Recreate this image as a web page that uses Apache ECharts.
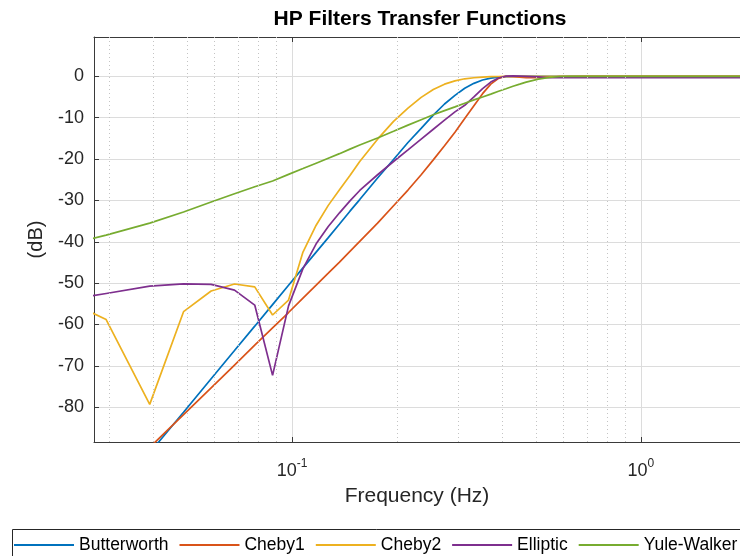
<!DOCTYPE html>
<html>
<head>
<meta charset="utf-8">
<script src="https://cdn.jsdelivr.net/npm/echarts@6/dist/echarts.min.js"></script>
<style>
html,body{margin:0;padding:0;background:#fff;}
#chart{width:740px;height:556px;}
</style>
</head>
<body>
<div id="chart"></div>
<script>
// Frequencies (Hz)
const freq = [0.01953,0.02930,0.03906,0.04883,0.05859,0.06836,0.07813,0.08789,0.09766,0.10742,
  0.11719,0.12695,0.13672,0.14648,0.15625,0.17578,0.19531,0.21484,0.23438,0.25391,
  0.27344,0.29297,0.31250,0.33203,0.35156,0.37109,0.39063,0.41016,0.42969,0.44922,
  0.46875,0.50781,0.54688,0.58594,0.62500,0.70313,0.78125,0.87891,0.97656,1.26953,
  1.56250,1.95313];
// Magnitude (dB)
const butterworth = [-121.6,-103.7,-91.0,-81.2,-73.1,-66.3,-60.4,-55.2,-50.5,-46.3,
  -42.5,-39.0,-35.7,-32.6,-29.8,-24.6,-20.1,-16.0,-12.6,-9.4,
  -6.7,-4.6,-2.9,-1.7,-0.9,-0.45,-0.2,-0.1,0,0,
  0,0,0,0,0,0,0,0,0,0,
  0,0];
const cheby1 = [-114.4,-100.0,-89.7,-81.8,-75.3,-69.8,-65.0,-60.8,-57.1,-53.6,
  -50.5,-47.6,-44.9,-42.3,-39.9,-35.5,-31.3,-27.5,-23.8,-20.2,
  -16.8,-13.5,-10.2,-7.1,-4.2,-1.9,-0.5,0,-0.1,-0.2,
  -0.3,-0.3,-0.2,-0.1,-0.05,0,0,0,0,0,
  0,0];
const cheby2 = [-51.7,-58.8,-79.3,-56.9,-51.9,-50.2,-50.9,-57.7,-54.1,-42.5,
  -36.0,-31.2,-27.4,-24.0,-20.6,-15.2,-10.9,-7.7,-5.1,-3.2,
  -1.9,-1.1,-0.6,-0.35,-0.2,-0.1,-0.05,0,0,0,
  0,0,0,0,0,0,0,0,0,0,
  0,0];
const elliptic = [-55.0,-52.5,-50.7,-50.2,-50.3,-51.7,-55.3,-72.3,-55.5,-46.5,
  -40.5,-36.3,-33.0,-30.1,-27.6,-23.8,-20.6,-17.8,-15.2,-12.8,
  -10.6,-8.6,-7.0,-5.0,-3.0,-1.4,-0.4,0.05,0.1,0.05,
  0,-0.15,-0.3,-0.35,-0.3,-0.25,-0.3,-0.35,-0.3,-0.3,
  -0.3,-0.3];
const yuleWalker = [-42.0,-38.4,-35.5,-32.8,-30.4,-28.4,-26.7,-25.3,-23.7,-22.3,
  -21.0,-19.8,-18.7,-17.6,-16.6,-14.9,-13.3,-11.8,-10.5,-9.3,
  -8.3,-7.4,-6.5,-5.7,-5.0,-4.3,-3.6,-3.0,-2.4,-1.9,
  -1.4,-0.7,-0.25,-0.05,0,0,0,0,0,0,
  0,0];
const seriesNames = ['Butterworth','Cheby1','Cheby2','Elliptic','Yule-Walker'];
const seriesValues = [butterworth, cheby1, cheby2, elliptic, yuleWalker];
const colors = ['#0072BD','#D95319','#EDB120','#7E2F8E','#77AC30'];
const yTicks = [-80,-70,-60,-50,-40,-30,-20,-10,0];
const xTicks = [0.1, 1];
const minorX = [0.03,0.04,0.05,0.06,0.07,0.08,0.09,0.2,0.3,0.4,0.5,0.6,0.7,0.8,0.9];
const xMin = 0.02704, xMax = 1.923;
const yMin = -88.4, yMax = 9.5;

const FONT = '"Liberation Sans", Arial, Helvetica, sans-serif';
const TXT = '#262626';
const AX = '#3a3a3a';

function xLabel(v){
  const e = Math.log10(v);
  const r = Math.round(e);
  if (Math.abs(e - r) > 1e-6) return '';
  return '{b|10}{s|' + r + '}';
}

const chart = echarts.init(document.getElementById('chart'), null, {renderer:'canvas'});
const series = seriesNames.map((n,i)=>({
  name:n, type:'line', symbol:'none', smooth:false, clip:true,
  data: freq.map((f,j)=>[f, seriesValues[i][j]]),
  lineStyle:{color:colors[i], width:1.7},
  itemStyle:{color:colors[i]},
  z:3, animation:false
}));
series.push({
  name:'minorGrid', type:'line', data:[], symbol:'none', z:1, silent:true, animation:false,
  markLine:{
    silent:true, symbol:['none','none'], animation:false,
    label:{show:false},
    lineStyle:{color:'#c4c4c4', width:1, type:[1,3]},
    emphasis:{disabled:true},
    data: minorX.map(v=>({xAxis:v}))
  }
});

const option = {
  backgroundColor:'#ffffff',
  animation:false,
  title:{
    text:'HP Filters Transfer Functions',
    left:420, top:9, textAlign:'center', padding:0,
    textStyle:{fontFamily:FONT, fontWeight:'bold', fontSize:21, color:'#000'}
  },
  graphic:[{
    type:'rect', z:-1, silent:true,
    shape:{x:12.5, y:529.5, width:780, height:40},
    style:{fill:'#fff', stroke:'#262626', lineWidth:1}
  }],
  grid:{left:94, right:-6, top:37, bottom:114, containLabel:false},
  legend:{
    data:seriesNames,
    left:12, top:529, width:900,
    padding:[7,8,14,2],
    itemWidth:60, itemHeight:14, itemGap:11,
    borderWidth:0, backgroundColor:'transparent',
    textStyle:{fontFamily:FONT, fontSize:17.5, color:'#000'},
    icon:'path://M0,6 L60,6 L60,8 L0,8 Z'
  },
  xAxis:[{
    type:'log', logBase:10, min:xMin, max:xMax,
    name:'Frequency (Hz)', nameLocation:'middle', nameGap:44,
    nameTextStyle:{fontFamily:FONT, fontSize:21, color:TXT},
    axisLine:{show:true, onZero:false, lineStyle:{color:AX, width:1}},
    axisTick:{show:true, inside:true, length:5, lineStyle:{color:AX}, customValues:xTicks},
    axisLabel:{
      show:true, margin:16, customValues:xTicks,
      formatter:xLabel,
      rich:{
        b:{fontFamily:FONT, fontSize:18, color:TXT, verticalAlign:'bottom'},
        s:{fontFamily:FONT, fontSize:12, color:TXT, verticalAlign:'top', padding:[0,0,10,0]}
      }
    },
    splitLine:{show:true, lineStyle:{color:'#dcdcdc', width:1}},
    minorTick:{show:false}, minorSplitLine:{show:false}
  },{
    type:'log', logBase:10, min:xMin, max:xMax, position:'top',
    axisLine:{show:true, onZero:false, lineStyle:{color:AX, width:1}},
    axisTick:{show:true, inside:true, length:5, lineStyle:{color:AX}, customValues:xTicks},
    axisLabel:{show:false},
    splitLine:{show:false}
  }],
  yAxis:{
    type:'value', min:yMin, max:yMax,
    name:'(dB)', nameLocation:'middle', nameGap:48, nameRotate:90,
    nameTextStyle:{fontFamily:FONT, fontSize:20, color:TXT},
    axisLine:{show:true, onZero:false, lineStyle:{color:AX, width:1}},
    axisTick:{show:true, inside:true, length:5, lineStyle:{color:AX}, customValues:yTicks},
    axisLabel:{
      show:true, margin:10, fontFamily:FONT, fontSize:18, color:TXT,
      customValues:yTicks
    },
    splitLine:{show:true, lineStyle:{color:'#dcdcdc', width:1}}
  },
  series:series
};
chart.setOption(option);
</script>
</body>
</html>
